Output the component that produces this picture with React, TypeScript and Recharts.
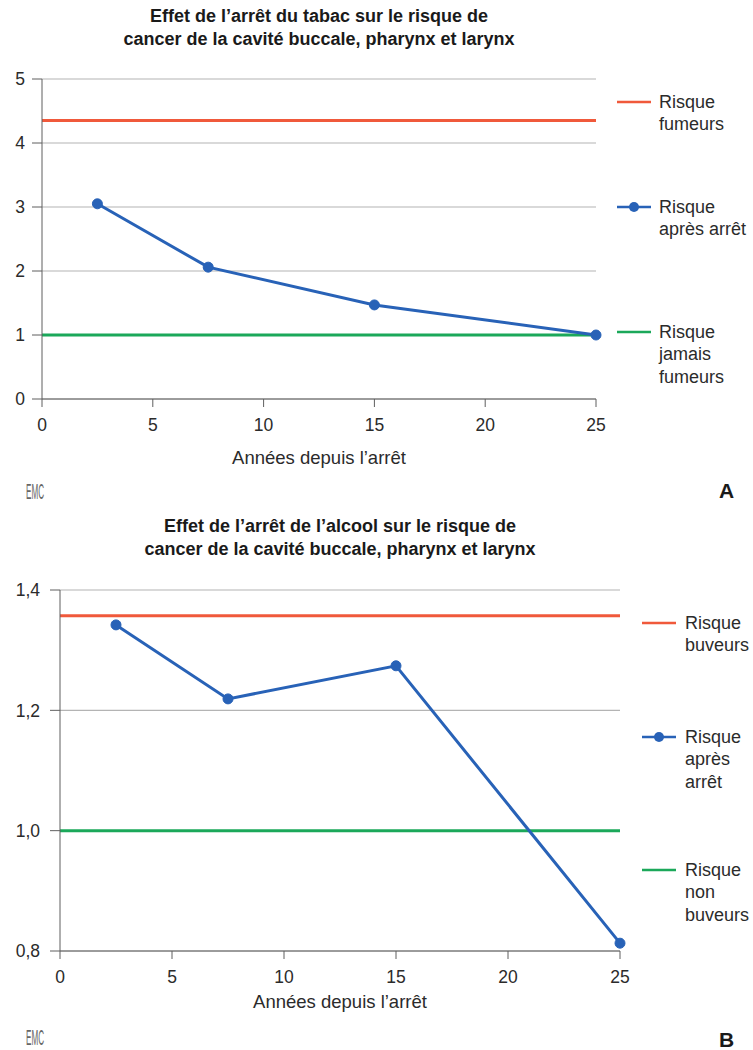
import { LineChart, Line, XAxis, YAxis, CartesianGrid, ReferenceLine } from "recharts";

const FONT = "'Liberation Sans', Arial, Helvetica, sans-serif";
const ROUGE = "#f0593b";
const BLEU = "#2862b7";
const VERT = "#1ba85a";
const AXE = "#5f5f5f";
const GRILLE = "#b4b4b4";
const TEXTE = "#2b2b2b";

// Panneau A : tabac
const anneesA = [2.5, 7.5, 15, 25];
const risqueApresArretA = [3.05, 2.06, 1.47, 1.0];
const risqueFumeurs = 4.35;
const risqueJamaisFumeurs = 1.0;
const ticksYA = [0, 1, 2, 3, 4, 5];

// Panneau B : alcool
const anneesB = [2.5, 7.5, 15, 25];
const risqueApresArretB = [1.342, 1.219, 1.274, 0.813];
const risqueBuveurs = 1.357;
const risqueNonBuveurs = 1.0;
const ticksYB = [0.8, 1.0, 1.2, 1.4];

const ticksX = [0, 5, 10, 15, 20, 25];

const donneesA = anneesA.map((annee, i) => ({ annee, risque: risqueApresArretA[i] }));
const donneesB = anneesB.map((annee, i) => ({ annee, risque: risqueApresArretB[i] }));

type LegendeLigne = { color: string; dot?: boolean; lines: string[]; y: number };

function Legende({ items, x, textX }: { items: LegendeLigne[]; x: number; textX: number }) {
  return (
    <>
      {items.map((it, i) => (
        <div key={i}>
          <svg
            width={34}
            height={12}
            style={{ position: "absolute", left: x, top: it.y - 6 }}
          >
            <line x1={0} y1={6} x2={34} y2={6} stroke={it.color} strokeWidth={2.5} />
            {it.dot && <circle cx={17} cy={6} r={5} fill={it.color} />}
          </svg>
          <div
            style={{
              position: "absolute",
              left: textX,
              top: it.y - 11.5,
              fontSize: 18,
              lineHeight: "22.5px",
              color: TEXTE,
              whiteSpace: "nowrap",
            }}
          >
            {it.lines.map((l, j) => (
              <div key={j}>{l}</div>
            ))}
          </div>
        </div>
      ))}
    </>
  );
}

function Titre({ lines, cx, top }: { lines: string[]; cx: number; top: number }) {
  return (
    <div
      style={{
        position: "absolute",
        left: cx - 250,
        width: 500,
        top,
        textAlign: "center",
        fontWeight: "bold",
        fontSize: 18,
        lineHeight: "23px",
        color: "#1a1a1a",
      }}
    >
      {lines.map((l, i) => (
        <div key={i}>{l}</div>
      ))}
    </div>
  );
}

function Pied({ baseline, top, lettre }: { baseline: number; top: number; lettre: string }) {
  return (
    <>
      {/* logo EMC, très étroit */}
      <svg
        width={90}
        height={27}
        style={{ position: "absolute", left: 24, top: baseline - 22 }}
      >
        <text
          x={2}
          y={22}
          fontSize={22}
          fill="#666"
          fontFamily={FONT}
          textLength={18}
          lengthAdjust="spacingAndGlyphs"
        >
          EMC
        </text>
      </svg>
      <div
        style={{
          position: "absolute",
          left: 719,
          top: top - 12,
          fontSize: 21,
          fontWeight: "bold",
          color: "#1a1a1a",
        }}
      >
        {lettre}
      </div>
    </>
  );
}

const virgule = (v: number) => v.toFixed(1).replace(".", ",");

export default function App() {
  return (
    <div
      style={{
        position: "absolute",
        left: 0,
        top: 0,
        width: 753,
        height: 1050,
        background: "#fff",
        fontFamily: FONT,
        overflow: "hidden",
      }}
    >
      {/* ---- A ---- */}
      <Titre
        lines={["Effet de l\u2019arrêt du tabac sur le risque de", "cancer de la cavité buccale, pharynx et larynx"]}
        cx={319}
        top={5}
      />
      <div style={{ position: "absolute", left: 0, top: 0 }}>
        <LineChart
          width={753}
          height={469}
          data={donneesA}
          margin={{ top: 79, right: 157, left: 0, bottom: 0 }}
        >
          <CartesianGrid vertical={false} stroke={GRILLE} strokeWidth={1.2} />
          <XAxis
            dataKey="annee"
            type="number"
            domain={[0, 25]}
            ticks={ticksX}
            height={70}
            tickSize={8}
            tickMargin={12}
            stroke={AXE}
            tick={{ fill: TEXTE, fontSize: 17.5, fontFamily: FONT }}
            label={{
              value: "Années depuis l\u2019arrêt",
              position: "insideBottom",
              offset: 5,
              fill: TEXTE,
              fontSize: 18.5,
              fontFamily: FONT,
            }}
          />
          <YAxis
            type="number"
            domain={[0, 5]}
            ticks={ticksYA}
            width={42}
            tickSize={10}
            tickMargin={7}
            stroke={AXE}
            tick={{ fill: TEXTE, fontSize: 17.5, fontFamily: FONT }}
          />
          <ReferenceLine y={risqueFumeurs} stroke={ROUGE} strokeWidth={3} />
          <ReferenceLine y={risqueJamaisFumeurs} stroke={VERT} strokeWidth={3} />
          <Line
            dataKey="risque"
            stroke={BLEU}
            strokeWidth={3}
            dot={{ r: 5, fill: BLEU, stroke: BLEU, strokeWidth: 1 }}
            isAnimationActive={false}
          />
        </LineChart>
      </div>
      <Legende
        x={617}
        textX={659}
        items={[
          { color: ROUGE, lines: ["Risque", "fumeurs"], y: 102 },
          { color: BLEU, dot: true, lines: ["Risque", "après arrêt"], y: 207 },
          { color: VERT, lines: ["Risque", "jamais", "fumeurs"], y: 332 },
        ]}
      />
      <Pied baseline={499} top={491} lettre="A" />

      {/* ---- B ---- */}
      <Titre
        lines={["Effet de l\u2019arrêt de l\u2019alcool sur le risque de", "cancer de la cavité buccale, pharynx et larynx"]}
        cx={340}
        top={515}
      />
      <div style={{ position: "absolute", left: 0, top: 510 }}>
        <LineChart
          width={753}
          height={511}
          data={donneesB}
          margin={{ top: 80, right: 133, left: 0, bottom: 0 }}
        >
          <CartesianGrid vertical={false} stroke={GRILLE} strokeWidth={1.2} />
          <XAxis
            dataKey="annee"
            type="number"
            domain={[0, 25]}
            ticks={ticksX}
            height={70}
            tickSize={8}
            tickMargin={12}
            stroke={AXE}
            tick={{ fill: TEXTE, fontSize: 17.5, fontFamily: FONT }}
            label={{
              value: "Années depuis l\u2019arrêt",
              position: "insideBottom",
              offset: 13,
              fill: TEXTE,
              fontSize: 18.5,
              fontFamily: FONT,
            }}
          />
          <YAxis
            type="number"
            domain={[0.8, 1.4]}
            ticks={ticksYB}
            width={60}
            tickSize={10}
            tickMargin={10}
            stroke={AXE}
            tickFormatter={virgule}
            tick={{ fill: TEXTE, fontSize: 17.5, fontFamily: FONT }}
          />
          <ReferenceLine y={risqueBuveurs} stroke={ROUGE} strokeWidth={3} />
          <ReferenceLine y={risqueNonBuveurs} stroke={VERT} strokeWidth={3} />
          <Line
            dataKey="risque"
            stroke={BLEU}
            strokeWidth={3}
            dot={{ r: 5, fill: BLEU, stroke: BLEU, strokeWidth: 1 }}
            isAnimationActive={false}
          />
        </LineChart>
      </div>
      <Legende
        x={642}
        textX={685}
        items={[
          { color: ROUGE, lines: ["Risque", "buveurs"], y: 623 },
          { color: BLEU, dot: true, lines: ["Risque", "après", "arrêt"], y: 737 },
          { color: VERT, lines: ["Risque", "non", "buveurs"], y: 870 },
        ]}
      />
      <Pied baseline={1045} top={1040} lettre="B" />
    </div>
  );
}
